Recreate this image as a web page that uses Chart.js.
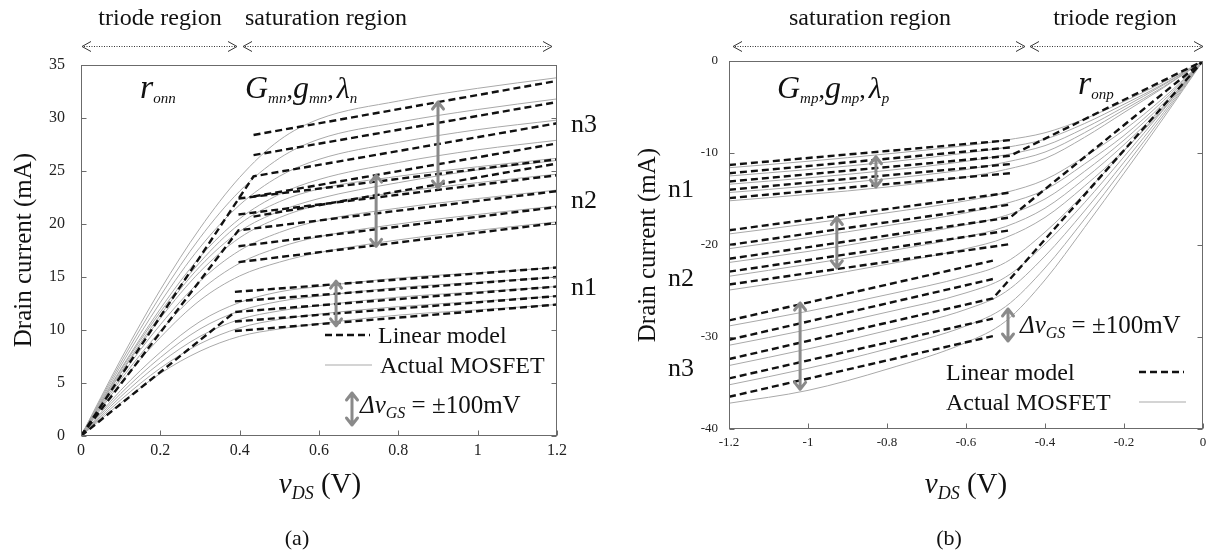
<!DOCTYPE html>
<html>
<head>
<meta charset="utf-8">
<script src="https://cdn.jsdelivr.net/npm/chart.js@4.4.1/dist/chart.umd.min.js"></script>
<style>
html, body { margin: 0; padding: 0; background: #fff; }
#wrap { position: relative; width: 1207px; height: 550px; overflow: hidden; }
canvas { position: absolute; top: 0; }
#nmos { left: 0; }
#pmos { left: 600px; }
</style>
</head>
<body>
<div id="wrap">
  <canvas id="nmos" width="600" height="550"></canvas>
  <canvas id="pmos" width="620" height="550"></canvas>
</div>
<script>
const SERIF = '"Liberation Serif", "Times New Roman", serif';

// ---- (a) NMOS: drain current vs vDS ----
const nVds = [0, 0.1, 0.2, 0.3, 0.4, 0.5, 0.6, 0.8, 1.0, 1.2];
const nActualN1 = [
  [0, 4.3, 7.9, 10.8, 12.6, 13.6, 14.1, 14.9, 15.4, 15.9],
  [0, 4.0, 7.4, 10.1, 11.8, 12.7, 13.2, 14.0, 14.5, 15.0],
  [0, 3.7, 6.9, 9.4, 11.0, 11.8, 12.3, 13.1, 13.6, 14.1],
  [0, 3.4, 6.4, 8.7, 10.2, 11.0, 11.5, 12.2, 12.7, 13.2],
  [0, 3.1, 5.9, 8.0, 9.4, 10.1, 10.6, 11.4, 11.9, 12.4]
];
const nActualN2 = [
  [0, 6.2, 11.7, 16.4, 20.0, 22.1, 23.3, 24.5, 25.4, 26.2],
  [0, 5.9, 11.1, 15.5, 18.7, 20.6, 21.8, 23.0, 23.9, 24.7],
  [0, 5.6, 10.5, 14.6, 17.5, 19.2, 20.3, 21.5, 22.4, 23.2],
  [0, 5.3, 9.9, 13.7, 16.3, 17.8, 18.8, 20.0, 20.9, 21.7],
  [0, 5.0, 9.3, 12.8, 15.1, 16.4, 17.3, 18.5, 19.4, 20.2]
];
const nActualN3 = [
  [0, 7.2, 13.8, 19.6, 24.4, 27.9, 29.9, 31.6, 32.8, 33.8],
  [0, 6.9, 13.2, 18.7, 23.1, 26.2, 28.0, 29.6, 30.8, 31.8],
  [0, 6.6, 12.6, 17.8, 21.8, 24.5, 26.1, 27.7, 28.9, 29.8],
  [0, 6.3, 12.0, 16.9, 20.5, 22.8, 24.2, 25.8, 27.0, 27.9],
  [0, 6.0, 11.4, 16.0, 19.3, 21.2, 22.4, 23.9, 25.1, 26.0]
];
// linear model: value at the knee and at vDS = 1.2 for each vGS step
const nKneeVds = [0.388, 0.397, 0.435];
const nEdgeVds = 1.2;
const nLinKneeN1 = [13.6, 12.7, 11.7, 10.8, 9.9];
const nLinEdgeN1 = [15.9, 15.0, 14.1, 13.2, 12.4];
const nLinKneeN2 = [22.4, 20.9, 19.4, 17.9, 16.4];
const nLinEdgeN2 = [26.1, 24.6, 23.1, 21.6, 20.1];
const nLinKneeN3 = [28.4, 26.5, 24.5, 22.6, 20.7];
const nLinEdgeN3 = [33.5, 31.5, 29.5, 27.6, 25.7];
// +-100mV arrows
const nArrowVds = [0.643, 0.744, 0.9];
const nArrowLow = [10.3, 17.8, 23.3];
const nArrowHigh = [14.7, 24.7, 31.6];
const nVdsTicks = [0, 0.2, 0.4, 0.6, 0.8, 1.0, 1.2];
const nVdsLabels = ['0', '0.2', '0.4', '0.6', '0.8', '1', '1.2'];
const nIdTicks = [0, 5, 10, 15, 20, 25, 30, 35];
const nIdLabels = ['0', '5', '10', '15', '20', '25', '30', '35'];

// ---- (b) PMOS ----
const pVds = [-1.2, -1.0, -0.8, -0.6, -0.5, -0.4, -0.3, -0.2, -0.1, 0];
const pActualN1 = [
  [-11.6, -10.9, -10.1, -9.2, -8.6, -7.8, -6.3, -4.4, -2.3, 0],
  [-12.5, -11.8, -11.0, -10.0, -9.4, -8.5, -6.8, -4.7, -2.5, 0],
  [-13.4, -12.7, -11.9, -10.9, -10.2, -9.2, -7.3, -5.0, -2.6, 0],
  [-14.3, -13.6, -12.8, -11.8, -11.0, -9.9, -7.8, -5.3, -2.8, 0],
  [-15.2, -14.5, -13.7, -12.6, -11.8, -10.6, -8.3, -5.6, -2.9, 0]
];
const pActualN2 = [
  [-18.8, -17.7, -16.5, -15.2, -14.3, -12.9, -10.4, -7.5, -4.0, 0],
  [-20.4, -19.2, -17.9, -16.5, -15.5, -14.0, -11.2, -8.1, -4.3, 0],
  [-21.9, -20.7, -19.3, -17.8, -16.8, -15.0, -12.0, -8.6, -4.6, 0],
  [-23.4, -22.1, -20.7, -19.1, -18.0, -16.0, -12.8, -9.1, -4.9, 0],
  [-24.9, -23.6, -22.1, -20.4, -19.2, -17.0, -13.6, -9.7, -5.2, 0]
];
const pActualN3 = [
  [-28.8, -27.2, -25.4, -23.4, -21.9, -18.6, -14.4, -9.8, -5.0, 0],
  [-30.9, -29.2, -27.3, -25.2, -23.5, -19.9, -15.4, -10.4, -5.3, 0],
  [-33.1, -31.3, -29.3, -27.0, -25.1, -21.2, -16.3, -11.0, -5.6, 0],
  [-35.2, -33.4, -31.3, -28.8, -26.7, -22.5, -17.2, -11.6, -5.9, 0],
  [-37.2, -35.8, -33.5, -30.6, -28.3, -23.8, -18.1, -12.2, -6.2, 0]
];
const pKneeVds = [-0.488, -0.488, -0.532];
const pEdgeVds = -1.2;
const pLinKneeN1 = [-8.6, -9.4, -10.3, -11.2, -12.2];
const pLinEdgeN1 = [-11.3, -12.2, -13.1, -14.0, -14.9];
const pLinKneeN2 = [-14.3, -15.6, -17.0, -18.4, -19.9];
const pLinEdgeN2 = [-18.4, -20.0, -21.5, -22.9, -24.3];
const pLinKneeN3 = [-21.7, -23.7, -25.8, -28.0, -29.9];
const pLinEdgeN3 = [-28.2, -30.3, -32.4, -34.5, -36.5];
const pArrowVds = [-0.828, -0.927, -1.02];
const pArrowLow = [-13.8, -22.6, -35.8];
const pArrowHigh = [-10.3, -16.9, -26.2];
const pVdsTicks = [-1.2, -1.0, -0.8, -0.6, -0.4, -0.2, 0];
const pVdsLabels = ['-1.2', '-1', '-0.8', '-0.6', '-0.4', '-0.2', '0'];
const pIdTicks = [-40, -30, -20, -10, 0];
const pIdLabels = ['-40', '-30', '-20', '-10', '0'];

// grey measured curves
function actualSets(curves, vds) {
  return curves.map(c => ({
    data: vds.map((v, i) => ({ x: v, y: c[i] })),
    borderColor: '#a9a9a9',
    borderWidth: 1,
    cubicInterpolationMode: 'monotone',
    pointRadius: 0,
    order: 2
  }));
}

// dashed piecewise-linear model; the middle step also carries the triode segment
function linearSets(kneeVds, kneeVals, edgeVds, edgeVals) {
  return kneeVals.map((k, i) => {
    const pts = [{ x: kneeVds, y: k }, { x: edgeVds, y: edgeVals[i] }];
    if (i === 2) pts.unshift({ x: 0, y: 0 });
    pts.sort((a, b) => a.x - b.x);
    return {
      data: pts,
      borderColor: '#111',
      borderWidth: 2.4,
      borderDash: [7, 4],
      tension: 0,
      pointRadius: 0,
      order: 1
    };
  });
}

function richText(ctx, x, y, parts, align) {
  let total = 0;
  const widths = parts.map(p => {
    ctx.font = (p.i ? 'italic ' : '') + p.s + 'px ' + SERIF;
    const w = ctx.measureText(p.t).width + (p.k || 0);
    total += w;
    return w;
  });
  let cx = align === 'center' ? x - total / 2 : x;
  ctx.textAlign = 'left';
  ctx.textBaseline = 'alphabetic';
  parts.forEach((p, n) => {
    ctx.font = (p.i ? 'italic ' : '') + p.s + 'px ' + SERIF;
    ctx.fillText(p.t, cx, y + (p.dy || 0));
    cx += widths[n];
  });
}

function plainText(ctx, t, x, y, size, align) {
  ctx.font = size + 'px ' + SERIF;
  ctx.textAlign = align || 'left';
  ctx.textBaseline = 'alphabetic';
  ctx.fillText(t, x, y);
}

function drawFrame(ctx, area, xs, ys, xTicks, yTicks) {
  ctx.save();
  ctx.strokeStyle = '#6b6b6b';
  ctx.lineWidth = 1;
  const L = Math.round(area.left) + 0.5, R = Math.round(area.right) - 0.5;
  const T = Math.round(area.top) + 0.5, B = Math.round(area.bottom) - 0.5;
  ctx.strokeRect(L, T, R - L, B - T);
  ctx.beginPath();
  xTicks.forEach(v => {
    const px = Math.round(xs.getPixelForValue(v)) + 0.5;
    ctx.moveTo(px, B); ctx.lineTo(px, B - 5);
  });
  yTicks.forEach(v => {
    const py = Math.round(ys.getPixelForValue(v)) + 0.5;
    ctx.moveTo(L, py); ctx.lineTo(L + 5, py);
    ctx.moveTo(R, py); ctx.lineTo(R - 5, py);
  });
  ctx.stroke();
  ctx.restore();
}

// dotted double arrow above the plot marking a region
function regionArrow(ctx, x1, x2, y) {
  ctx.save();
  ctx.strokeStyle = '#333';
  ctx.lineWidth = 1;
  ctx.setLineDash([1, 1.5]);
  ctx.beginPath(); ctx.moveTo(x1 + 2, y + 0.5); ctx.lineTo(x2 - 2, y + 0.5); ctx.stroke();
  ctx.setLineDash([]);
  ctx.beginPath();
  ctx.moveTo(x1 + 9, y - 4.5); ctx.lineTo(x1, y + 0.5); ctx.lineTo(x1 + 9, y + 5.5);
  ctx.moveTo(x2 - 9, y - 4.5); ctx.lineTo(x2, y + 0.5); ctx.lineTo(x2 - 9, y + 5.5);
  ctx.stroke();
  ctx.restore();
}

// grey +-100mV double arrow
function stepArrow(ctx, x, yTop, yBot) {
  ctx.save();
  ctx.strokeStyle = '#8a8a8a';
  ctx.lineWidth = 3;
  ctx.lineCap = 'round';
  ctx.lineJoin = 'round';
  ctx.beginPath();
  ctx.moveTo(x, yTop + 1); ctx.lineTo(x, yBot - 1);
  ctx.moveTo(x - 5.5, yTop + 8); ctx.lineTo(x, yTop + 1); ctx.lineTo(x + 5.5, yTop + 8);
  ctx.moveTo(x - 5.5, yBot - 8); ctx.lineTo(x, yBot - 1); ctx.lineTo(x + 5.5, yBot - 8);
  ctx.stroke();
  ctx.restore();
}

function legendLine(ctx, x1, x2, y, dashed) {
  ctx.save();
  ctx.beginPath();
  ctx.moveTo(x1, y); ctx.lineTo(x2, y);
  if (dashed) { ctx.strokeStyle = '#111'; ctx.lineWidth = 2.4; ctx.setLineDash([7, 4]); }
  else { ctx.strokeStyle = '#a9a9a9'; ctx.lineWidth = 1; }
  ctx.stroke();
  ctx.restore();
}

function deltaLabel(ctx, x, y) {
  richText(ctx, x, y, [
    { t: '\u0394', s: 25, i: true },
    { t: 'v', s: 25, i: true },
    { t: 'GS', s: 16, i: true, dy: 5 },
    { t: ' = \u00b1100mV', s: 25 }
  ]);
}

function vdsTitle(ctx, x, y) {
  richText(ctx, x, y, [
    { t: 'v', s: 29, i: true },
    { t: 'DS', s: 18, i: true, dy: 6 },
    { t: ' (V)', s: 29 }
  ], 'center');
}

// G, g, lambda parameter label with subscripts
function paramLabel(ctx, x, y, sub, last) {
  richText(ctx, x, y, [
    { t: 'G', s: 32, i: true }, { t: sub, s: 15, i: true, dy: 5 }, { t: ',', s: 26 },
    { t: 'g', s: 32, i: true }, { t: sub, s: 15, i: true, dy: 5 }, { t: ',', s: 26, k: 3 },
    { t: '\u03bb', s: 30, i: true }, { t: last, s: 15, i: true, dy: 5 }
  ]);
}

function yTitle(ctx, x, y) {
  ctx.save();
  ctx.translate(x, y);
  ctx.rotate(-Math.PI / 2);
  ctx.font = '25px ' + SERIF;
  ctx.textAlign = 'center';
  ctx.textBaseline = 'middle';
  ctx.fillText('Drain current (mA)', 0, 0);
  ctx.restore();
}

function axisSet(min, max, ticks, labels, size, pad, fit) {
  return {
    type: 'linear', min, max,
    afterBuildTicks: s => { s.ticks = ticks.map(v => ({ value: v })); },
    afterFit: fit,
    grid: { display: false, drawTicks: false },
    border: { display: false },
    ticks: {
      callback: (v, i) => labels[i],
      font: { family: SERIF, size },
      color: '#222',
      padding: pad,
      maxRotation: 0,
      autoSkip: false
    }
  };
}

const nmosDecor = {
  id: 'nmosDecor',
  afterDraw(chart) {
    const { ctx, chartArea, scales: { x, y } } = chart;
    drawFrame(ctx, chartArea, x, y, nVdsTicks, nIdTicks);
    nArrowVds.forEach((v, i) => stepArrow(ctx, x.getPixelForValue(v),
      y.getPixelForValue(nArrowHigh[i]), y.getPixelForValue(nArrowLow[i])));
    ctx.save();
    ctx.fillStyle = '#111';
    plainText(ctx, 'triode region', 160, 25, 24, 'center');
    plainText(ctx, 'saturation region', 326, 25, 24, 'center');
    regionArrow(ctx, 82, 237, 46);
    regionArrow(ctx, 243, 552, 46);
    richText(ctx, 140, 98, [{ t: 'r', s: 34, i: true }, { t: 'onn', s: 15, i: true, dy: 5 }]);
    paramLabel(ctx, 245, 98, 'mn', 'n');
    plainText(ctx, 'n3', 571, 132, 26);
    plainText(ctx, 'n2', 571, 208, 26);
    plainText(ctx, 'n1', 571, 295, 26);
    legendLine(ctx, 325, 370, 335, true);
    plainText(ctx, 'Linear model', 378, 343, 24);
    legendLine(ctx, 325, 372, 365, false);
    plainText(ctx, 'Actual MOSFET', 380, 373, 24);
    stepArrow(ctx, 352, 392, 426);
    deltaLabel(ctx, 360, 413);
    yTitle(ctx, 24, 250);
    vdsTitle(ctx, 320, 493);
    plainText(ctx, '(a)', 297, 545, 22, 'center');
    ctx.restore();
  }
};

const pmosDecor = {
  id: 'pmosDecor',
  afterDraw(chart) {
    const { ctx, chartArea, scales: { x, y } } = chart;
    drawFrame(ctx, chartArea, x, y, pVdsTicks, pIdTicks);
    pArrowVds.forEach((v, i) => stepArrow(ctx, x.getPixelForValue(v),
      y.getPixelForValue(pArrowHigh[i]), y.getPixelForValue(pArrowLow[i])));
    ctx.save();
    ctx.fillStyle = '#111';
    plainText(ctx, 'saturation region', 270, 25, 24, 'center');
    plainText(ctx, 'triode region', 515, 25, 24, 'center');
    regionArrow(ctx, 133, 425, 46);
    regionArrow(ctx, 430, 603, 46);
    paramLabel(ctx, 177, 98, 'mp', 'p');
    richText(ctx, 478, 94, [{ t: 'r', s: 34, i: true }, { t: 'onp', s: 15, i: true, dy: 5 }]);
    plainText(ctx, 'n1', 68, 197, 26);
    plainText(ctx, 'n2', 68, 286, 26);
    plainText(ctx, 'n3', 68, 376, 26);
    stepArrow(ctx, 408, 308, 342);
    deltaLabel(ctx, 420, 333);
    plainText(ctx, 'Linear model', 346, 380, 24);
    legendLine(ctx, 539, 584, 372, true);
    plainText(ctx, 'Actual MOSFET', 346, 410, 24);
    legendLine(ctx, 539, 586, 402, false);
    yTitle(ctx, 48, 245);
    vdsTitle(ctx, 366, 493);
    plainText(ctx, '(b)', 349, 545, 22, 'center');
    ctx.restore();
  }
};

const commonOpts = {
  responsive: false,
  animation: false,
  devicePixelRatio: 1,
  plugins: { legend: { display: false }, tooltip: { enabled: false } },
  elements: { line: { fill: false } }
};

new Chart(document.getElementById('nmos'), {
  type: 'line',
  data: {
    datasets: [
      ...actualSets(nActualN1, nVds),
      ...actualSets(nActualN2, nVds),
      ...actualSets(nActualN3, nVds),
      ...linearSets(nKneeVds[0], nLinKneeN1, nEdgeVds, nLinEdgeN1),
      ...linearSets(nKneeVds[1], nLinKneeN2, nEdgeVds, nLinEdgeN2),
      ...linearSets(nKneeVds[2], nLinKneeN3, nEdgeVds, nLinEdgeN3)
    ]
  },
  options: {
    ...commonOpts,
    layout: { padding: { top: 65, right: 43, bottom: 0, left: 0 } },
    scales: {
      x: axisSet(0, 1.2, nVdsTicks, nVdsLabels, 16, 5, s => { s.height = 114; }),
      y: axisSet(0, 35, nIdTicks, nIdLabels, 16, 16, s => { s.width = 81; })
    }
  },
  plugins: [nmosDecor]
});

// canvas runs past the page edge so the last x label has room
new Chart(document.getElementById('pmos'), {
  type: 'line',
  data: {
    datasets: [
      ...actualSets(pActualN1, pVds),
      ...actualSets(pActualN2, pVds),
      ...actualSets(pActualN3, pVds),
      ...linearSets(pKneeVds[0], pLinKneeN1, pEdgeVds, pLinEdgeN1),
      ...linearSets(pKneeVds[1], pLinKneeN2, pEdgeVds, pLinEdgeN2),
      ...linearSets(pKneeVds[2], pLinKneeN3, pEdgeVds, pLinEdgeN3)
    ]
  },
  options: {
    ...commonOpts,
    layout: { padding: { top: 61, right: 17, bottom: 0, left: 0 } },
    scales: {
      x: axisSet(-1.2, 0, pVdsTicks, pVdsLabels, 13, 6, s => { s.height = 121; }),
      y: axisSet(-40, 0, pIdTicks, pIdLabels, 13, 11, s => { s.width = 129; })
    }
  },
  plugins: [pmosDecor]
});
</script>
</body>
</html>
